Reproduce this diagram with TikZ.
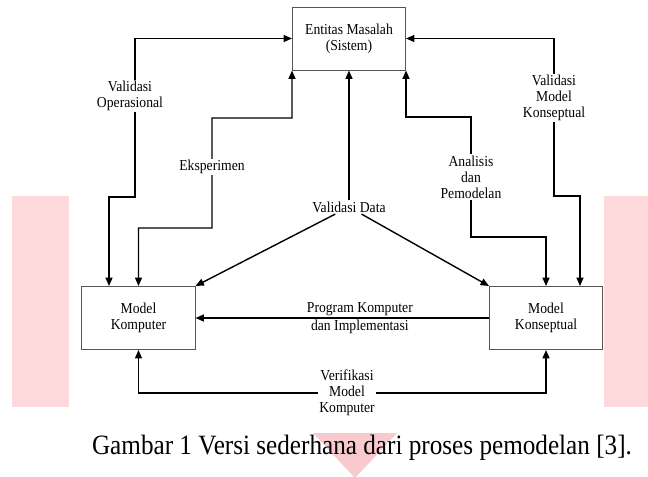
\documentclass[tikz,border=0pt]{standalone}
\usepackage{fontspec}
\setmainfont{Liberation Serif}[FakeStretch=0.9]
\usetikzlibrary{arrows.meta}
\definecolor{boxgray}{HTML}{555555}
\definecolor{wmpink}{HTML}{FDD9DC}
\definecolor{wmdark}{HTML}{F8CACE}

\begin{document}
\begin{tikzpicture}[x=0.025cm,y=-0.025cm,
  >={Triangle[length=6pt,width=5pt]},
  teks/.style={font=\fontsize{10.8}{11.4}\selectfont,align=center,inner sep=1pt},
  lbl/.style={teks,fill=white},
  blok/.style={teks,draw=boxgray,line width=0.7pt,minimum width=2.825cm,minimum height=1.575cm},
  link/.style={line width=1pt}]
  \useasboundingbox (0,0) rectangle (648,476);
  \fill[wmpink] (12,196) rectangle (69,407);
  \fill[wmpink] (604,196) rectangle (648,407);
  \fill[wmdark] (313,433) -- (397,433) -- (355,478) -- cycle;

  \node[blok] (sistem) at (349,38.5) {Entitas Masalah\\(Sistem)};
  \node[blok] (komputer) at (138.5,318) {Model\\Komputer};
  \node[blok] (konseptual) at (546,318) {Model\\Konseptual};
  \node[teks] (vdata) at (349,207) {Validasi Data};

  \draw[link,<->] (sistem.west) -| (135,197) -| (109,0 |- komputer.north);
  \draw[link,<->] (komputer.north) |- (212,228) |- (292,118) -- (sistem.south west);
  \draw[link,<->] (sistem.south east) |- (471,117) |- (546,237) -- (konseptual.north);
  \draw[link,<->] (sistem.east) -| (554,196) -| (580,0 |- konseptual.north);
  \draw[link,->] (vdata) -- (sistem);
  \draw[link,->] (vdata) -- (komputer.north east);
  \draw[link,->] (vdata) -- (konseptual.north west);
  \draw[link,->] (konseptual) -- (komputer)
    node[teks,pos=.44,above] (prog) {Program Komputer}
    node[teks,pos=.44,below] (impl) {dan Implementasi};
  \draw[link,<->] (komputer.south) |- (konseptual.south |- 0,393) -- (konseptual.south);

  \node[lbl] (valop) at (130,96) {Validasi\\Operasional};
  \node[lbl] (eksp) at (212,167) {Eksperimen};
  \node[lbl] (anal) at (471,177) {Analisis\\dan\\Pemodelan};
  \node[lbl] (valkon) at (554,98) {Validasi\\Model\\Konseptual};
  \node[lbl] (verif) at (347,393) {Verifikasi\\Model\\Komputer};

  \node[font=\fontsize{19.9}{22}\selectfont] (caption) at (362,448) {Gambar 1 Versi sederhana dari proses pemodelan [3].};
\end{tikzpicture}
\end{document}
